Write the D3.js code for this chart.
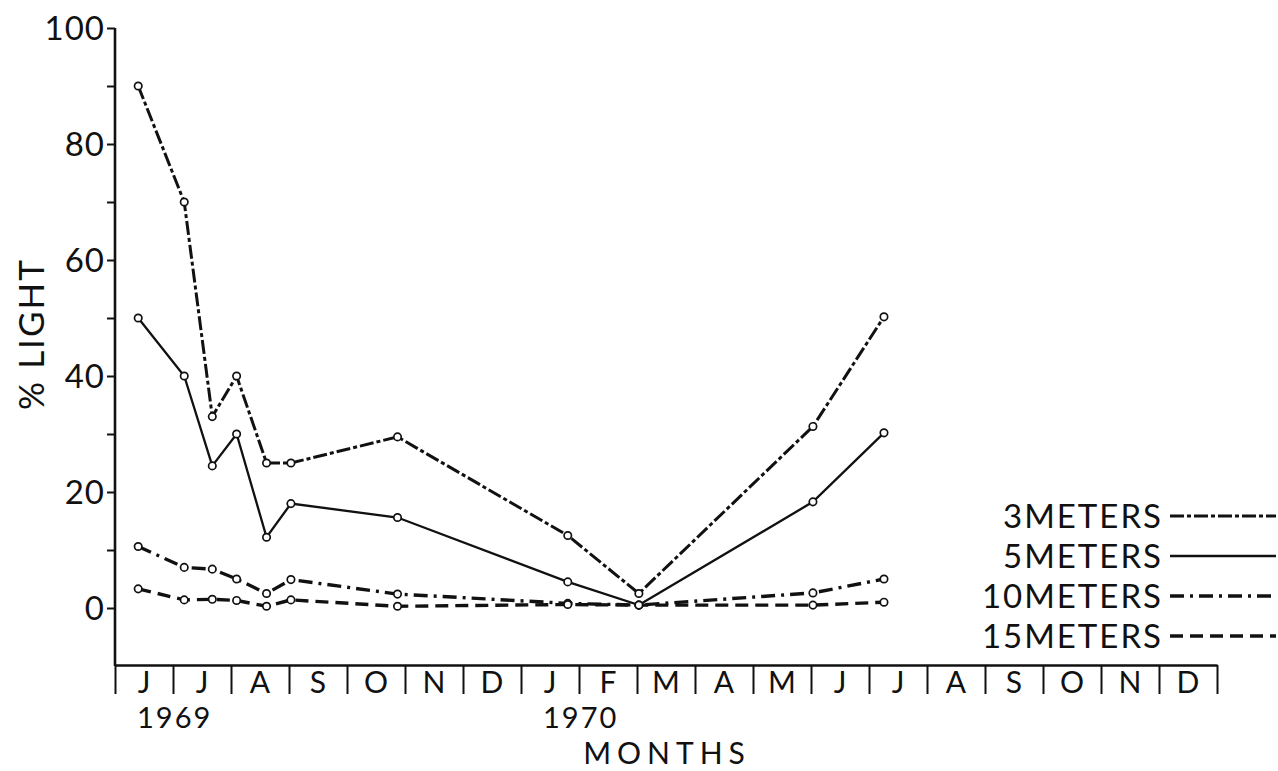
<!DOCTYPE html>
<html>
<head>
<meta charset="utf-8">
<script src="https://cdn.jsdelivr.net/npm/d3@7"></script>
<style>
  html, body { margin: 0; padding: 0; background: #fff; }
  svg { display: block; }
  text { font-family: Lato, "DejaVu Sans", sans-serif; fill: #111; }
</style>
</head>
<body>
<svg id="chart" width="1278" height="771"></svg>
<script>
// ---- data ----
const sampleDates = ["1969-06-13","1969-07-07","1969-07-22","1969-08-04","1969-08-20","1969-09-02","1969-10-28","1970-01-26","1970-03-02","1970-06-02","1970-07-09"];
const light3m  = [90, 70, 33, 40, 25, 25, 29.5, 12.5, 2.5, 31.3, 50.2];
const light5m  = [50, 40, 24.5, 30, 12.2, 18, 15.6, 4.5, 0.5, 18.3, 30.2];
const light10m = [10.6, 7, 6.7, 5, 2.5, 4.9, 2.4, 0.8, 0.5, 2.6, 5];
const light15m = [3.3, 1.4, 1.5, 1.3, 0.3, 1.4, 0.3, 0.6, 0.5, 0.5, 1];
const seriesNames = ["3METERS", "5METERS", "10METERS", "15METERS"];
const monthLabels = ["J","J","A","S","O","N","D","J","F","M","A","M","J","J","A","S","O","N","D"];
const yearLabels = ["1969", "1970"];
const yMajorTicks = [0, 20, 40, 60, 80, 100];
const yMinorTicks = [10, 30, 50, 70, 90];

// ---- helpers ----
function monthIndex(s) {
  const [y, m, d] = s.split("-").map(Number);
  const dim = new Date(y, m, 0).getDate();
  return (y - 1969) * 12 + (m - 6) + (d - 1) / dim;
}

const svg = d3.select("#chart");
const x = d3.scaleLinear().domain([0, monthLabels.length]).range([115, 1217]);
const y = d3.scaleLinear().domain([-10, 100]).range([666, 28]);

const styles = [
  { dash: "14,3,4,3", width: 3 },
  { dash: null, width: 2.3 },
  { dash: "14,6,3,6", width: 3.4 },
  { dash: "13,7", width: 3.4 }
];
const seriesValues = [light3m, light5m, light10m, light15m];

// ---- axes ----
const yAxis = d3.axisLeft(y).tickValues(yMajorTicks).tickSize(8).tickSizeOuter(0).tickPadding(2);
const gy = svg.append("g").attr("transform", "translate(115,0)").call(yAxis);
gy.select(".domain").attr("stroke", "#111").attr("stroke-width", 2.6).attr("d", `M0,${y(100)}V${y(-10)}`);
gy.selectAll(".tick line").attr("stroke", "#111").attr("stroke-width", 2);
gy.selectAll(".tick text").style("font-size", "33px").style("letter-spacing", "1px").attr("font-family", null).attr("dy", "0.36em");
const yMinor = d3.axisLeft(y).tickValues(yMinorTicks).tickSize(8).tickFormat("");
const gym = svg.append("g").attr("transform", "translate(115,0)").call(yMinor);
gym.select(".domain").remove();
gym.selectAll(".tick line").attr("stroke", "#111").attr("stroke-width", 2);

// x axis: month boundary ticks, labels in between
const xAxisY = 665;
const monthBounds = d3.range(0, monthLabels.length + 1);
const xAxis = d3.axisBottom(x).tickValues(monthBounds).tickSize(29).tickSizeOuter(0).tickFormat("");
const gx = svg.append("g").attr("transform", `translate(0,${xAxisY})`).call(xAxis);
gx.select(".domain").attr("stroke", "#111").attr("stroke-width", 2.6);
gx.selectAll(".tick line").attr("stroke", "#111").attr("stroke-width", 2);

svg.append("g").selectAll("text").data(monthLabels).join("text")
  .attr("x", (d, i) => x(i + 0.5))
  .attr("y", 693)
  .attr("text-anchor", "middle")
  .style("font-size", "30px")
  .text(d => d);

svg.append("g").selectAll("text").data(yearLabels).join("text")
  .attr("x", (d, i) => x(i * 7 + 0.38))
  .attr("y", 728)
  .attr("text-anchor", "start")
  .style("font-size", "29px")
  .style("letter-spacing", "2px")
  .text(d => d);

svg.append("text")
  .attr("x", 667).attr("y", 764)
  .attr("text-anchor", "middle")
  .style("font-size", "30px")
  .style("letter-spacing", "6px")
  .text("MONTHS");

svg.append("text")
  .attr("transform", "translate(44,334) rotate(-90)")
  .attr("text-anchor", "middle")
  .style("font-size", "35px")
  .style("letter-spacing", "2px")
  .text("% LIGHT");

// ---- lines ----
const xs = sampleDates.map(monthIndex);
const line = d3.line().x(d => x(d[0])).y(d => y(d[1]));
seriesValues.forEach((vals, k) => {
  const pts = xs.map((xi, i) => [xi, vals[i]]);
  svg.append("path")
    .attr("d", line(pts))
    .attr("fill", "none")
    .attr("stroke", "#111")
    .attr("stroke-width", styles[k].width)
    .attr("stroke-dasharray", styles[k].dash);
});
seriesValues.forEach((vals, k) => {
  svg.append("g").selectAll("circle").data(xs.map((xi, i) => [xi, vals[i]])).join("circle")
    .attr("cx", d => x(d[0])).attr("cy", d => y(d[1])).attr("r", 3.7)
    .attr("fill", "#fff").attr("stroke", "#111").attr("stroke-width", 1.7);
});

// ---- legend ----
const legend = svg.append("g");
seriesNames.forEach((name, k) => {
  const cy = 516 + k * 40;
  legend.append("text")
    .attr("x", 1163).attr("y", cy + 12)
    .attr("text-anchor", "end")
    .style("font-size", "33px")
    .style("letter-spacing", "2px")
    .text(name);
  legend.append("line")
    .attr("x1", 1170).attr("x2", 1276).attr("y1", cy).attr("y2", cy)
    .attr("stroke", "#111")
    .attr("stroke-width", styles[k].width)
    .attr("stroke-dasharray", styles[k].dash);
});
</script>
</body>
</html>
